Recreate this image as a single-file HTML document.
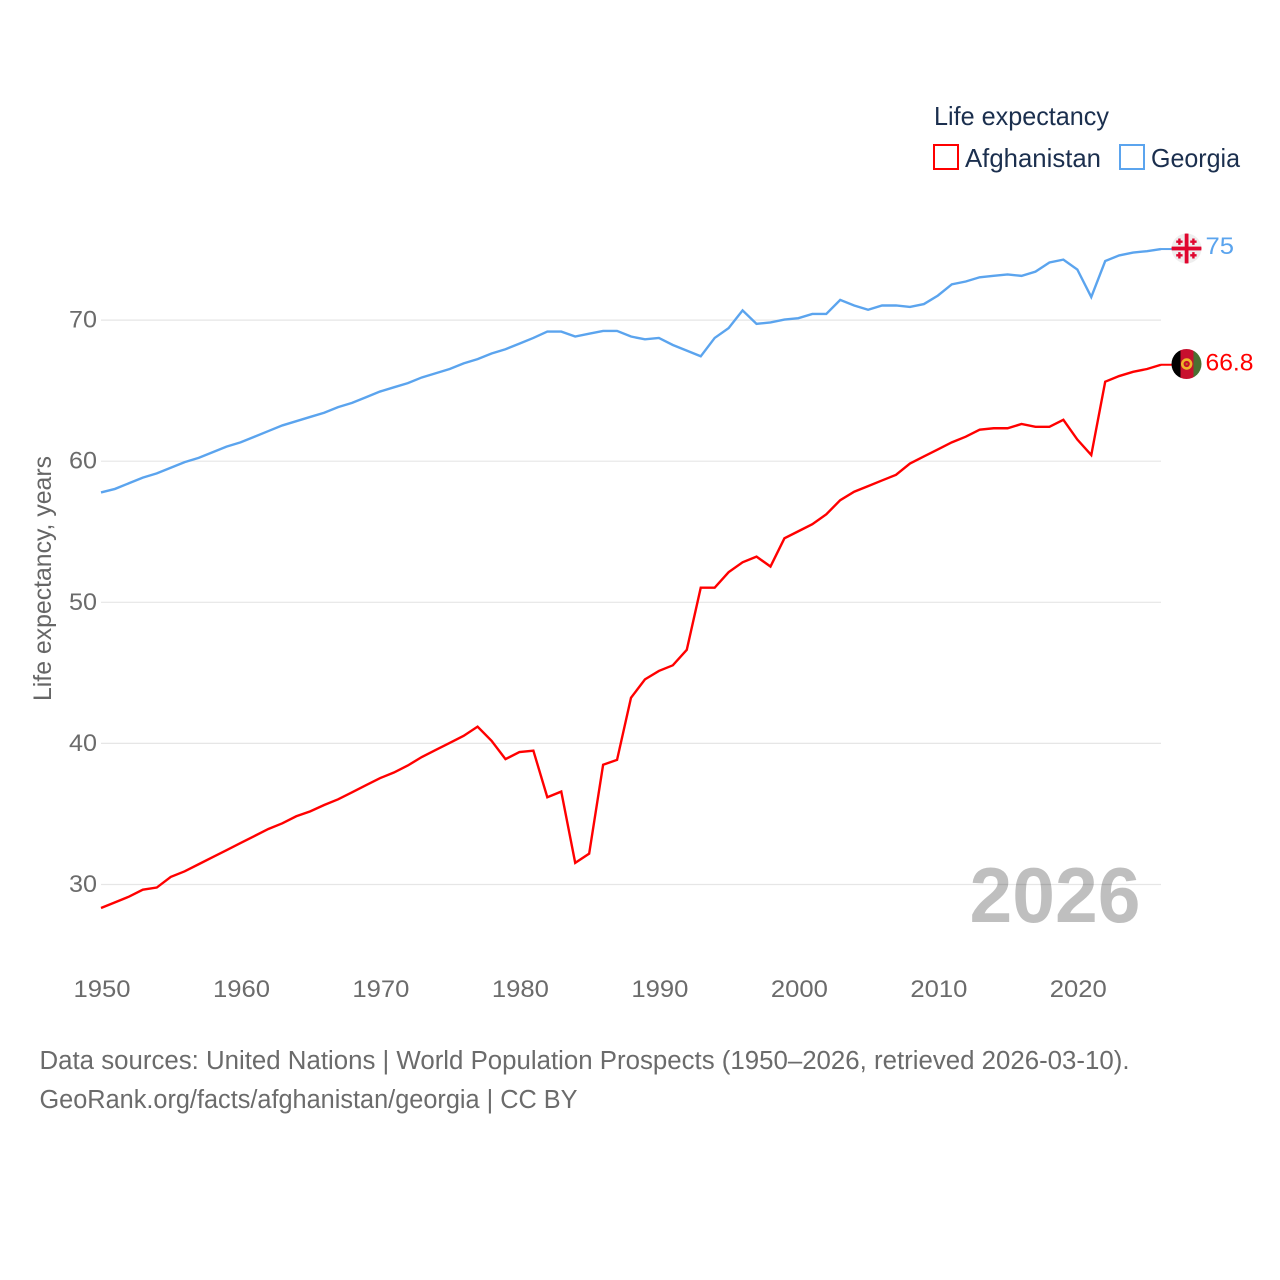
<!DOCTYPE html>
<html lang="en">
<head>
<meta charset="utf-8">
<title>Life expectancy: Afghanistan and Georgia</title>
<style>
html,body{margin:0;padding:0;background:#fff;width:1280px;height:1280px;overflow:hidden}
svg{display:block;font-family:"Liberation Sans",sans-serif}
</style>
</head>
<body>
<svg id="chart" width="1280" height="1280" viewBox="0 0 1280 1280" xmlns="http://www.w3.org/2000/svg">
  <rect width="1280" height="1280" fill="#fff"/>
  <g id="grid"></g>
  <g id="yticks"></g>
  <g id="xticks"></g>
  <text transform="translate(51,701) rotate(-90)" font-size="25" fill="#666" textLength="245" lengthAdjust="spacingAndGlyphs">Life expectancy, years</text>
  <text x="969.5" y="922" font-size="78" font-weight="700" fill="#000" fill-opacity="0.25" textLength="171" lengthAdjust="spacingAndGlyphs">2026</text>
  <g id="series"></g>

  <g>
    <text x="934" y="125" font-size="26" fill="#1b2f4e" textLength="175" lengthAdjust="spacingAndGlyphs">Life expectancy</text>
    <g>
      <rect x="934" y="145" width="24" height="24" fill="#fff" stroke="#ff0000" stroke-width="2"/>
      <text x="965" y="167" font-size="26" fill="#1b2f4e" textLength="136" lengthAdjust="spacingAndGlyphs">Afghanistan</text>
    </g>
    <g>
      <rect x="1120" y="145" width="24" height="24" fill="#fff" stroke="#5ba4ee" stroke-width="2"/>
      <text x="1151" y="167" font-size="26" fill="#1b2f4e" textLength="89" lengthAdjust="spacingAndGlyphs">Georgia</text>
    </g>
  </g>

  <defs>
    <clipPath id="clip-ge"><circle cx="1186.5" cy="248.5" r="15"/></clipPath>
    <clipPath id="clip-af"><circle cx="1186.5" cy="364" r="15"/></clipPath>
  </defs>

  <g clip-path="url(#clip-ge)">
    <rect x="1171" y="233" width="31" height="31" fill="#eeeeee"/>
    <rect x="1184.7" y="233" width="3.8" height="31" fill="#e0062f"/>
    <rect x="1171" y="246.6" width="31" height="3.8" fill="#e0062f"/>
    <path d="M1179.4 238.5v6.4M1176.2 241.7h6.4M1193.4 238.5v6.4M1190.2 241.7h6.4M1179.4 252.1v6.4M1176.2 255.3h6.4M1193.4 252.1v6.4M1190.2 255.3h6.4" stroke="#e0062f" stroke-width="2.4" fill="none"/>
  </g>
  <g clip-path="url(#clip-af)">
    <rect x="1171" y="349" width="9.5" height="30" fill="#000"/>
    <rect x="1180.5" y="349" width="13" height="30" fill="#c8102e"/>
    <rect x="1193.5" y="349" width="9" height="30" fill="#4a7032"/>
    <circle cx="1186.7" cy="364" r="4.4" fill="none" stroke="#f0b429" stroke-width="2.6"/>
    <circle cx="1186.7" cy="364" r="1.1" fill="#b9761d"/>
  </g>

  <text x="1205.5" y="254" font-size="24" fill="#5ba4ee" textLength="28.5" lengthAdjust="spacingAndGlyphs">75</text>
  <text x="1205.5" y="370.5" font-size="24" fill="#ff0000" textLength="48" lengthAdjust="spacingAndGlyphs">66.8</text>

  <text x="39.5" y="1069" font-size="25.5" fill="#6b6b6b" textLength="1090" lengthAdjust="spacingAndGlyphs">Data sources: United Nations | World Population Prospects (1950–2026, retrieved 2026-03-10).</text>
  <text x="39.5" y="1108" font-size="25.5" fill="#6b6b6b" textLength="538" lengthAdjust="spacingAndGlyphs">GeoRank.org/facts/afghanistan/georgia | CC BY</text>
</svg>
<script>
const firstYear = 1950;
const afghanistanValues = [
  28.3,28.7,29.1,29.6,29.75,30.5,30.9,31.4,31.9,32.4,
  32.9,33.4,33.9,34.3,34.8,35.15,35.6,36.0,36.5,37.0,
  37.5,37.9,38.4,39.0,39.5,40.0,40.5,41.15,40.15,38.85,
  39.35,39.45,36.15,36.55,31.5,32.15,38.45,38.8,43.2,44.5,
  45.1,45.5,46.6,51.0,51.0,52.1,52.8,53.2,52.5,54.5,
  55.0,55.5,56.2,57.2,57.8,58.2,58.6,59.0,59.8,60.3,
  60.8,61.3,61.7,62.2,62.3,62.3,62.6,62.4,62.4,62.9,
  61.5,60.4,65.6,66.0,66.3,66.5,66.8
];
const georgiaValues = [
  57.75,58.0,58.4,58.8,59.1,59.5,59.9,60.2,60.6,61.0,
  61.3,61.7,62.1,62.5,62.8,63.1,63.4,63.8,64.1,64.5,
  64.9,65.2,65.5,65.9,66.2,66.5,66.9,67.2,67.6,67.9,
  68.3,68.7,69.15,69.15,68.8,69.0,69.2,69.2,68.8,68.6,
  68.7,68.2,67.8,67.4,68.7,69.4,70.65,69.7,69.8,70.0,
  70.1,70.4,70.4,71.4,71.0,70.7,71.0,71.0,70.9,71.1,
  71.7,72.5,72.7,73.0,73.1,73.2,73.1,73.4,74.05,74.25,
  73.55,71.6,74.15,74.55,74.75,74.85,75.0
];
const yTickValues = [30,40,50,60,70];
const xTickValues = [1950,1960,1970,1980,1990,2000,2010,2020];

const NS = 'http://www.w3.org/2000/svg';
const xScale = function (year) { return 101 + (year - 1950) * (1161 - 101) / 76; };
const yScale = function (value) { return 884 - (value - 30) * 14.11; };

const gridGroup = document.getElementById('grid');
const yTickGroup = document.getElementById('yticks');
const xTickGroup = document.getElementById('xticks');
const seriesGroup = document.getElementById('series');

yTickValues.forEach(function (tick) {
  const line = document.createElementNS(NS, 'line');
  
  
  line.setAttribute('x1', xScale(1950));
  line.setAttribute('x2', xScale(2026));
  line.setAttribute('y1', yScale(tick) + 0.5);
  line.setAttribute('y2', yScale(tick) + 0.5);
  line.setAttribute('stroke', '#e6e6e6');
  line.setAttribute('stroke-width', '1.2');
  gridGroup.appendChild(line);

  const label = document.createElementNS(NS, 'text');
  
  
  label.setAttribute('x', 69);
  label.setAttribute('y', yScale(tick) + 8);
  label.setAttribute('font-size', '24');
  label.setAttribute('fill', '#6b6b6b');
  label.setAttribute('textLength', '28');
  label.setAttribute('lengthAdjust', 'spacingAndGlyphs');
  label.textContent = tick;
  yTickGroup.appendChild(label);
});

xTickValues.forEach(function (tick) {
  const label = document.createElementNS(NS, 'text');
  
  
  label.setAttribute('x', xScale(tick) - 27.5);
  label.setAttribute('y', 997);
  label.setAttribute('font-size', '24');
  label.setAttribute('fill', '#6b6b6b');
  label.setAttribute('textLength', '57');
  label.setAttribute('lengthAdjust', 'spacingAndGlyphs');
  label.textContent = tick;
  xTickGroup.appendChild(label);
});

function pointsFor(values) {
  return values.map(function (value, index) {
    return xScale(firstYear + index).toFixed(2) + ',' + yScale(value).toFixed(2);
  }).join(' ');
}

const georgiaLine = document.createElementNS(NS, 'polyline');


georgiaLine.setAttribute('points', pointsFor(georgiaValues));
georgiaLine.setAttribute('fill', 'none');
georgiaLine.setAttribute('stroke', '#5ba4ee');
georgiaLine.setAttribute('stroke-width', '2.4');
seriesGroup.appendChild(georgiaLine);

const afghanistanLine = document.createElementNS(NS, 'polyline');


afghanistanLine.setAttribute('points', pointsFor(afghanistanValues));
afghanistanLine.setAttribute('fill', 'none');
afghanistanLine.setAttribute('stroke', '#ff0000');
afghanistanLine.setAttribute('stroke-width', '2.4');
seriesGroup.appendChild(afghanistanLine);

const georgiaConnector = document.createElementNS(NS, 'line');


georgiaConnector.setAttribute('x1', xScale(2026));
georgiaConnector.setAttribute('x2', 1172);
georgiaConnector.setAttribute('y1', yScale(georgiaValues[georgiaValues.length - 1]));
georgiaConnector.setAttribute('y2', yScale(georgiaValues[georgiaValues.length - 1]));
georgiaConnector.setAttribute('stroke', '#5ba4ee');
georgiaConnector.setAttribute('stroke-width', '2');
seriesGroup.appendChild(georgiaConnector);

const afghanistanConnector = document.createElementNS(NS, 'line');


afghanistanConnector.setAttribute('x1', xScale(2026));
afghanistanConnector.setAttribute('x2', 1172);
afghanistanConnector.setAttribute('y1', yScale(afghanistanValues[afghanistanValues.length - 1]));
afghanistanConnector.setAttribute('y2', yScale(afghanistanValues[afghanistanValues.length - 1]));
afghanistanConnector.setAttribute('stroke', '#ff0000');
afghanistanConnector.setAttribute('stroke-width', '2');
seriesGroup.appendChild(afghanistanConnector);
</script>
</body>
</html>
